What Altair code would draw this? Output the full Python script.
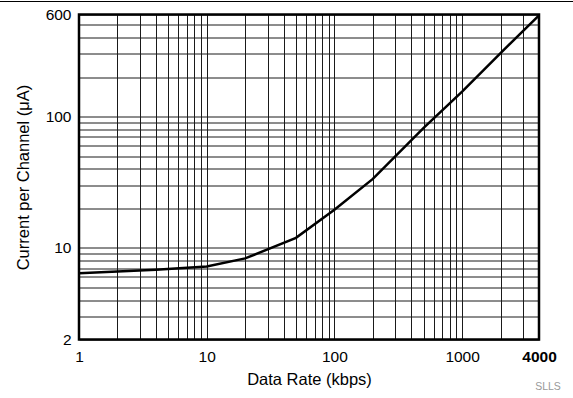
import altair as alt
import pandas as pd

# Curve (log-log)
rate = [1, 2, 4, 10, 20, 50, 100, 200, 500, 1000, 2000, 4000]
current = [6.4, 6.6, 6.8, 7.2, 8.3, 11.9, 19.5, 33.5, 82, 155, 305, 590]

# Grid and label values
x_grid = [1, 2, 3, 4, 5, 6, 7, 8, 9,
          10, 20, 30, 40, 50, 60, 70, 80, 90,
          100, 200, 300, 400, 500, 600, 700, 800, 900,
          1000, 2000, 3000, 4000]
y_grid = [2, 3, 4, 5, 6, 7, 8, 9,
          10, 20, 30, 40, 50, 60, 70, 80, 90,
          100, 200, 300, 400, 500, 600]
x_labels = [1, 10, 100, 1000, 4000]
y_labels = [2, 10, 100, 600]

df = pd.DataFrame({"rate": rate, "current": current})


def label_expr(vals):
    test = " || ".join(f"datum.value == {v}" for v in vals)
    return f"({test}) ? format(datum.value, 'd') : ''"


FONT = "Liberation Sans"

line = alt.Chart(df).mark_line(color="black", strokeWidth=2.5).encode(
    x=alt.X(
        "rate:Q",
        scale=alt.Scale(type="log", domain=[1, 4000], nice=False),
        axis=alt.Axis(
            values=x_grid,
            grid=True,
            gridColor="#1a1a1a",
            gridWidth=1,
            ticks=False,
            domain=False,
            labelExpr=label_expr(x_labels),
            labelOverlap=False,
            labelFlush=False,
            labelBound=False,
            labelPadding=10,
            labelFontSize=15.5,
            labelColor="black",
            labelFontWeight={"condition": {"test": "datum.value == 4000", "value": "bold"}, "value": "normal"},
            title="Data Rate (kbps)",
            titleFontSize=16.5,
            titleFontWeight="normal",
            titleColor="black",
            titlePadding=6,
        ),
    ),
    y=alt.Y(
        "current:Q",
        scale=alt.Scale(type="log", domain=[2, 600], nice=False),
        axis=alt.Axis(
            values=y_grid,
            grid=True,
            gridColor="#1a1a1a",
            gridWidth=1,
            ticks=False,
            domain=False,
            labelExpr=label_expr(y_labels),
            labelOverlap=False,
            labelFlush=False,
            labelBound=False,
            labelPadding=8,
            labelFontSize=15.5,
            labelColor="black",
            title="Current per Channel (μA)",
            titleFontSize=16.5,
            titleFontWeight="normal",
            titleColor="black",
            titlePadding=14,
        ),
    ),
)

one = pd.DataFrame({"a": [0]})

frame = alt.Chart(one).mark_rect(fill=None, stroke="black", strokeWidth=2.5).encode(
    x=alt.value(0), x2=alt.value(460), y=alt.value(0), y2=alt.value(325)
)

top_rule = alt.Chart(one).mark_rule(color="black", strokeWidth=1).encode(
    x=alt.value(-79), x2=alt.value(494), y=alt.value(-13)
)

tag = alt.Chart(one).mark_text(
    text="SLLS", color="#999999", fontSize=10.5, align="center", baseline="middle", font=FONT
).encode(x=alt.value(469), y=alt.value(372))

chart = (
    alt.layer(line, frame, top_rule, tag)
    .properties(
        width=460,
        height=325,
        autosize=alt.AutoSizeParams(type="none"),
        padding={"left": 79, "top": 14.5, "right": 34, "bottom": 58.5},
        background="white",
    )
    .configure_view(stroke=None)
    .configure(font=FONT)
)

chart.save("out.html", embed_options={"renderer": "svg", "actions": False})
